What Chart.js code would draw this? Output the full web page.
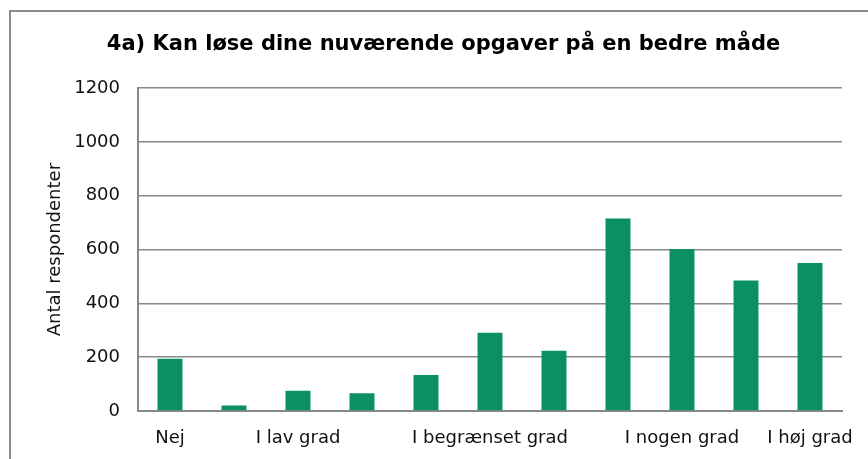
<!DOCTYPE html>
<html>
<head>
<meta charset="utf-8">
<script src="https://cdn.jsdelivr.net/npm/chart.js@4.4.0/dist/chart.umd.min.js"></script>
<style>
  html, body { margin: 0; padding: 0; background: #fff; }
  #wrap { position: absolute; left: 0; top: 0; width: 868px; height: 459px; }
  #frame { position: absolute; left: 9px; top: 10px; width: 870px; height: 460px;
           border-left: 2px solid #8c8c8c; border-top: 2px solid #8c8c8c; pointer-events: none; }
</style>
</head>
<body>
<div id="wrap"><canvas id="chart" width="868" height="459"></canvas></div>
<div id="frame"></div>
<script>
  // categories: only some get a visible label, as in the original
  const categories = ['Nej', '', 'I lav grad', '', '', 'I begrænset grad', '', '', 'I nogen grad', '', 'I høj grad'];
  const respondents = [194, 20, 75, 66, 134, 291, 224, 716, 602, 485, 550];
  const yTicks = [0, 200, 400, 600, 800, 1000, 1200];

  const titleText = '4a) Kan løse dine nuværende opgaver på en bedre måde';
  const yTitle = 'Antal respondenter';

  const ctx = document.getElementById('chart').getContext('2d');
  const font = '"DejaVu Sans", Verdana, sans-serif';
  const gray = '#8a8a8a';

  new Chart(ctx, {
    type: 'bar',
    data: {
      labels: categories,
      datasets: [{
        data: respondents,
        backgroundColor: '#0b9063',
        categoryPercentage: 1,
        barPercentage: 0.39
      }]
    },
    options: {
      responsive: false,
      animation: false,
      layout: { padding: { left: 45, right: 26, top: 0, bottom: 0 } },
      plugins: {
        legend: { display: false },
        tooltip: { enabled: false },
        title: {
          display: true,
          text: titleText,
          color: '#000',
          font: { family: font, size: 21, weight: 'bold', lineHeight: 1.2 },
          padding: { top: 32, bottom: 31 }
        }
      },
      scales: {
        x: {
          grid: { display: false },
          border: { display: true, color: gray, width: 2 },
          ticks: {
            color: '#111',
            font: { family: font, size: 18 },
            autoSkip: false,
            maxRotation: 0,
            padding: 9
          },
          afterFit: (scale) => { scale.height = 48; }
        },
        y: {
          min: 0,
          max: 1200,
          afterBuildTicks: (scale) => { scale.ticks = yTicks.map(v => ({ value: v })); },
          grid: { color: gray, lineWidth: 1.5, drawTicks: false },
          border: { display: true, color: gray, width: 2 },
          ticks: {
            color: '#111',
            font: { family: font, size: 18 },
            padding: 18,
            callback: (value) => String(value)
          },
          title: {
            display: true,
            text: yTitle,
            color: '#111',
            font: { family: font, size: 18 },
            padding: 0
          },
          afterFit: (scale) => { scale.width = 93; }
        }
      }
    }
  });
</script>
</body>
</html>
